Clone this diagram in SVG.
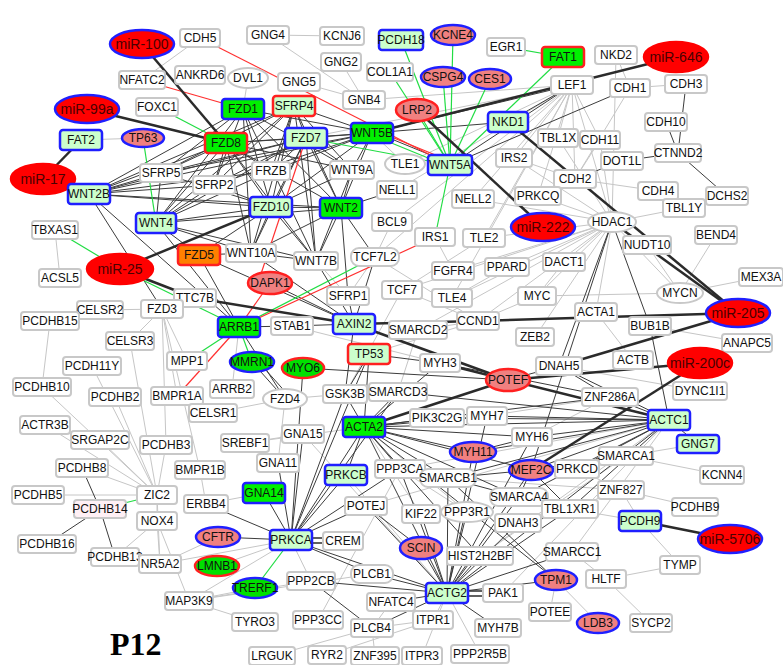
<svg xmlns="http://www.w3.org/2000/svg" width="783" height="665" viewBox="0 0 783 665">
<style>
text{font-family:"Liberation Sans",Arial,sans-serif;font-size:12px;text-anchor:middle;fill:#111}
text.mt{font-size:14px;fill:#4a0000}
rect{rx:3px;stroke-width:2.5}
.n{fill:#fff;stroke:#c8c8c8;stroke-width:2}
.pk{fill:#fff0f5;stroke:#c8c8c8;stroke-width:2}
.lg{fill:#ccffcc;stroke:#1f1fff}
.gb{fill:#00f000;stroke:#1f1fff}
.gr{fill:#00f000;stroke:#ff2020}
.lgr{fill:#ccffcc;stroke:#ff2020}
.or{fill:#ff8000;stroke:#ff2020}
.rr{rx:8px}
ellipse{stroke-width:2.5}
.mr{fill:#ff0000;stroke:#ff0000}
.mrb{fill:#ff0000;stroke:#1f1fff}
.pb{fill:#f08080;stroke:#1f1fff}
.pr{fill:#f08080;stroke:#ff2020}
.geb{fill:#00e000;stroke:#1f1fff}
.ger{fill:#00e000;stroke:#ff2020}
.we{fill:#fff;stroke:#c8c8c8;stroke-width:2}
.e line{stroke:#c6c6c6;stroke-width:1}
.d line{stroke:#3c3c3c;stroke-width:1}
.g line{stroke:#22dd44;stroke-width:1.2}
.r line{stroke:#ff3030;stroke-width:1.2}
.t line{stroke:#2b2b2b;stroke-width:2.5}
.t line.m{stroke-width:1.4}
</style>
<g id="connectors">
<g class="e">
<line x1="200" y1="38" x2="142" y2="80"/><line x1="248" y1="78" x2="243" y2="109"/><line x1="268" y1="35" x2="342" y2="36"/><line x1="268" y1="35" x2="364" y2="100"/><line x1="341" y1="62" x2="364" y2="100"/><line x1="299" y1="82" x2="364" y2="100"/><line x1="364" y1="100" x2="572" y2="85"/><line x1="81" y1="140" x2="143" y2="138"/><line x1="630" y1="88" x2="686" y2="84"/><line x1="630" y1="88" x2="616" y2="55"/><line x1="616" y1="55" x2="612" y2="222"/>
<line x1="572" y1="85" x2="405" y2="164"/><line x1="572" y1="85" x2="558" y2="138"/><line x1="572" y1="85" x2="575" y2="179"/><line x1="572" y1="85" x2="514" y2="158"/><line x1="572" y1="85" x2="612" y2="222"/><line x1="572" y1="85" x2="473" y2="199"/><line x1="572" y1="85" x2="538" y2="196"/><line x1="572" y1="85" x2="452" y2="298"/><line x1="572" y1="85" x2="600" y2="140"/><line x1="572" y1="85" x2="375" y2="257"/><line x1="572" y1="85" x2="484" y2="238"/><line x1="572" y1="85" x2="306" y2="138"/><line x1="572" y1="85" x2="392" y2="222"/><line x1="572" y1="85" x2="397" y2="190"/>
<line x1="630" y1="88" x2="575" y2="179"/><line x1="575" y1="179" x2="658" y2="191"/><line x1="575" y1="179" x2="600" y2="140"/><line x1="575" y1="179" x2="508" y2="122"/><line x1="575" y1="179" x2="514" y2="158"/>
<line x1="612" y1="222" x2="558" y2="138"/><line x1="612" y1="222" x2="684" y2="208"/><line x1="612" y1="222" x2="564" y2="262"/><line x1="612" y1="222" x2="537" y2="296"/><line x1="612" y1="222" x2="535" y2="337"/><line x1="612" y1="222" x2="596" y2="312"/><line x1="612" y1="222" x2="478" y2="321"/><line x1="612" y1="222" x2="452" y2="298"/><line x1="612" y1="222" x2="473" y2="199"/><line x1="612" y1="222" x2="538" y2="196"/><line x1="612" y1="222" x2="507" y2="267"/><line x1="612" y1="222" x2="514" y2="158"/><line x1="612" y1="222" x2="680" y2="293"/><line x1="612" y1="222" x2="484" y2="238"/><line x1="612" y1="222" x2="600" y2="140"/><line x1="612" y1="222" x2="402" y2="290"/><line x1="612" y1="222" x2="453" y2="271"/><line x1="612" y1="222" x2="418" y2="330"/>
<line x1="647" y1="245" x2="680" y2="293"/><line x1="680" y1="293" x2="761" y2="277"/><line x1="680" y1="293" x2="716" y2="235"/><line x1="537" y1="296" x2="680" y2="293"/><line x1="650" y1="326" x2="747" y2="343"/><line x1="559" y1="366" x2="700" y2="391"/><line x1="633" y1="360" x2="596" y2="312"/>
<line x1="375" y1="257" x2="478" y2="321"/><line x1="402" y1="290" x2="478" y2="321"/><line x1="484" y1="238" x2="402" y2="290"/><line x1="507" y1="267" x2="452" y2="298"/><line x1="537" y1="296" x2="478" y2="321"/><line x1="564" y1="262" x2="537" y2="296"/><line x1="392" y1="222" x2="375" y2="257"/><line x1="418" y1="330" x2="478" y2="321"/><line x1="418" y1="330" x2="398" y2="392"/><line x1="435" y1="237" x2="453" y2="271"/><line x1="348" y1="296" x2="375" y2="257"/><line x1="348" y1="296" x2="316" y2="261"/><line x1="402" y1="290" x2="345" y2="394"/><line x1="292" y1="326" x2="440" y2="363"/><line x1="478" y1="321" x2="369" y2="354"/><line x1="405" y1="164" x2="372" y2="133"/>
<line x1="55" y1="230" x2="60" y2="278"/><line x1="50" y1="321" x2="42" y2="387"/><line x1="100" y1="310" x2="162" y2="309"/><line x1="162" y1="309" x2="130" y2="341"/><line x1="162" y1="309" x2="187" y2="361"/><line x1="162" y1="309" x2="177" y2="396"/><line x1="162" y1="309" x2="166" y2="445"/><line x1="162" y1="309" x2="195" y2="298"/><line x1="162" y1="309" x2="200" y2="470"/>
<line x1="130" y1="341" x2="157" y2="495"/><line x1="92" y1="366" x2="157" y2="495"/><line x1="115" y1="397" x2="157" y2="495"/><line x1="42" y1="387" x2="157" y2="495"/><line x1="100" y1="440" x2="157" y2="495"/><line x1="45" y1="425" x2="157" y2="495"/><line x1="166" y1="445" x2="157" y2="495"/><line x1="82" y1="468" x2="157" y2="495"/><line x1="38" y1="495" x2="157" y2="495"/><line x1="157" y1="521" x2="157" y2="495"/><line x1="157" y1="521" x2="115" y2="557"/><line x1="157" y1="521" x2="160" y2="564"/><line x1="157" y1="521" x2="189" y2="601"/><line x1="160" y1="564" x2="218" y2="537"/><line x1="160" y1="564" x2="157" y2="495"/>
<line x1="213" y1="413" x2="285" y2="399"/><line x1="245" y1="443" x2="303" y2="434"/><line x1="245" y1="443" x2="364" y2="427"/><line x1="200" y1="470" x2="206" y2="504"/><line x1="206" y1="504" x2="264" y2="493"/><line x1="285" y1="399" x2="278" y2="463"/><line x1="285" y1="399" x2="345" y2="394"/><line x1="232" y1="389" x2="239" y2="327"/>
<line x1="189" y1="601" x2="255" y2="588"/><line x1="189" y1="601" x2="311" y2="581"/><line x1="189" y1="601" x2="372" y2="574"/><line x1="272" y1="656" x2="372" y2="628"/><line x1="433" y1="620" x2="372" y2="628"/><line x1="433" y1="620" x2="447" y2="593"/><line x1="422" y1="656" x2="447" y2="593"/><line x1="375" y1="656" x2="372" y2="628"/><line x1="327" y1="655" x2="433" y2="620"/><line x1="480" y1="654" x2="447" y2="593"/><line x1="318" y1="620" x2="400" y2="469"/><line x1="391" y1="602" x2="372" y2="628"/><line x1="255" y1="622" x2="189" y2="601"/>
<line x1="626" y1="456" x2="698" y2="444"/><line x1="626" y1="456" x2="722" y2="475"/><line x1="621" y1="490" x2="695" y2="507"/><line x1="621" y1="490" x2="640" y2="521"/><line x1="640" y1="521" x2="680" y2="565"/><line x1="680" y1="565" x2="606" y2="579"/><line x1="606" y1="579" x2="651" y2="623"/><line x1="606" y1="579" x2="572" y2="552"/><line x1="556" y1="580" x2="598" y2="623"/><line x1="556" y1="580" x2="550" y2="612"/><line x1="577" y1="469" x2="621" y2="490"/>
<line x1="366" y1="506" x2="669" y2="420"/><line x1="421" y1="514" x2="364" y2="427"/><line x1="467" y1="512" x2="364" y2="427"/><line x1="448" y1="478" x2="621" y2="490"/><line x1="487" y1="416" x2="610" y2="397"/><line x1="532" y1="437" x2="610" y2="397"/><line x1="480" y1="556" x2="626" y2="456"/><line x1="303" y1="434" x2="447" y2="593"/><line x1="346" y1="475" x2="447" y2="593"/><line x1="467" y1="512" x2="400" y2="469"/><line x1="400" y1="469" x2="669" y2="420"/><line x1="621" y1="490" x2="570" y2="509"/><line x1="640" y1="521" x2="570" y2="509"/><line x1="572" y1="552" x2="669" y2="420"/><line x1="480" y1="556" x2="669" y2="420"/><line x1="503" y1="593" x2="669" y2="420"/>
<line x1="291" y1="540" x2="189" y2="601"/><line x1="291" y1="540" x2="217" y2="566"/><line x1="291" y1="540" x2="160" y2="564"/><line x1="291" y1="540" x2="311" y2="581"/>
</g>
<g class="d">
<line x1="89" y1="194" x2="161" y2="173"/><line x1="89" y1="194" x2="214" y2="185"/><line x1="89" y1="194" x2="226" y2="143"/><line x1="89" y1="194" x2="243" y2="109"/><line x1="89" y1="194" x2="306" y2="138"/><line x1="89" y1="194" x2="271" y2="207"/><line x1="89" y1="194" x2="341" y2="208"/><line x1="89" y1="194" x2="271" y2="171"/><line x1="89" y1="194" x2="372" y2="133"/><line x1="89" y1="194" x2="294" y2="106"/>
<line x1="156" y1="223" x2="161" y2="173"/><line x1="156" y1="223" x2="214" y2="185"/><line x1="156" y1="223" x2="226" y2="143"/><line x1="156" y1="223" x2="243" y2="109"/><line x1="156" y1="223" x2="306" y2="138"/><line x1="156" y1="223" x2="271" y2="207"/><line x1="156" y1="223" x2="341" y2="208"/><line x1="156" y1="223" x2="294" y2="106"/><line x1="156" y1="223" x2="271" y2="171"/><line x1="156" y1="223" x2="251" y2="253"/><line x1="156" y1="223" x2="316" y2="261"/>
<line x1="226" y1="143" x2="161" y2="173"/><line x1="226" y1="143" x2="214" y2="185"/><line x1="226" y1="143" x2="306" y2="138"/><line x1="226" y1="143" x2="372" y2="133"/><line x1="226" y1="143" x2="271" y2="207"/><line x1="226" y1="143" x2="341" y2="208"/><line x1="226" y1="143" x2="251" y2="253"/><line x1="226" y1="143" x2="316" y2="261"/><line x1="226" y1="143" x2="352" y2="170"/><line x1="226" y1="143" x2="271" y2="171"/>
<line x1="243" y1="109" x2="161" y2="173"/><line x1="243" y1="109" x2="214" y2="185"/><line x1="243" y1="109" x2="271" y2="207"/><line x1="243" y1="109" x2="341" y2="208"/><line x1="243" y1="109" x2="316" y2="261"/><line x1="243" y1="109" x2="251" y2="253"/><line x1="243" y1="109" x2="352" y2="170"/><line x1="243" y1="109" x2="372" y2="133"/>
<line x1="294" y1="106" x2="306" y2="138"/><line x1="294" y1="106" x2="372" y2="133"/><line x1="294" y1="106" x2="271" y2="207"/><line x1="294" y1="106" x2="341" y2="208"/><line x1="294" y1="106" x2="316" y2="261"/><line x1="294" y1="106" x2="161" y2="173"/><line x1="294" y1="106" x2="214" y2="185"/><line x1="294" y1="106" x2="251" y2="253"/><line x1="294" y1="106" x2="352" y2="170"/><line x1="294" y1="106" x2="271" y2="171"/>
<line x1="306" y1="138" x2="372" y2="133"/><line x1="306" y1="138" x2="271" y2="207"/><line x1="306" y1="138" x2="341" y2="208"/><line x1="306" y1="138" x2="316" y2="261"/><line x1="306" y1="138" x2="251" y2="253"/><line x1="306" y1="138" x2="214" y2="185"/><line x1="306" y1="138" x2="161" y2="173"/><line x1="306" y1="138" x2="271" y2="171"/><line x1="306" y1="138" x2="352" y2="170"/>
<line x1="372" y1="133" x2="271" y2="207"/><line x1="372" y1="133" x2="341" y2="208"/><line x1="372" y1="133" x2="214" y2="185"/><line x1="372" y1="133" x2="161" y2="173"/><line x1="372" y1="133" x2="271" y2="171"/><line x1="372" y1="133" x2="352" y2="170"/><line x1="372" y1="131" x2="450" y2="163"/>
<line x1="271" y1="207" x2="341" y2="208"/><line x1="271" y1="207" x2="251" y2="253"/><line x1="271" y1="207" x2="316" y2="261"/><line x1="271" y1="207" x2="352" y2="170"/><line x1="271" y1="207" x2="214" y2="185"/><line x1="271" y1="207" x2="161" y2="173"/><line x1="271" y1="207" x2="199" y2="255"/>
<line x1="341" y1="208" x2="352" y2="170"/><line x1="341" y1="208" x2="251" y2="253"/><line x1="341" y1="208" x2="316" y2="261"/><line x1="341" y1="208" x2="348" y2="296"/><line x1="341" y1="208" x2="397" y2="190"/><line x1="341" y1="208" x2="375" y2="257"/>
<line x1="352" y1="170" x2="316" y2="261"/><line x1="251" y1="253" x2="316" y2="261"/><line x1="251" y1="253" x2="354" y2="324"/><line x1="316" y1="261" x2="354" y2="324"/><line x1="348" y1="296" x2="354" y2="324"/><line x1="375" y1="257" x2="354" y2="324"/><line x1="270" y1="283" x2="354" y2="324"/><line x1="199" y1="255" x2="354" y2="324"/><line x1="199" y1="255" x2="239" y2="327"/><line x1="199" y1="255" x2="251" y2="253"/><line x1="156" y1="223" x2="239" y2="327"/><line x1="89" y1="194" x2="239" y2="327"/><line x1="89" y1="194" x2="162" y2="309"/><line x1="156" y1="223" x2="199" y2="255"/>
<line x1="239" y1="327" x2="292" y2="326"/><line x1="292" y1="326" x2="354" y2="324"/><line x1="252" y1="362" x2="285" y2="399"/><line x1="256" y1="359" x2="289" y2="396"/><line x1="239" y1="327" x2="285" y2="399"/><line x1="354" y1="324" x2="345" y2="394"/>
<line x1="369" y1="354" x2="440" y2="363"/><line x1="369" y1="354" x2="364" y2="427"/><line x1="369" y1="354" x2="291" y2="540"/><line x1="369" y1="354" x2="345" y2="394"/><line x1="345" y1="394" x2="291" y2="540"/><line x1="303" y1="434" x2="291" y2="540"/><line x1="278" y1="463" x2="291" y2="540"/><line x1="264" y1="493" x2="291" y2="540"/><line x1="346" y1="475" x2="291" y2="540"/><line x1="364" y1="427" x2="291" y2="540"/><line x1="400" y1="469" x2="291" y2="540"/><line x1="366" y1="506" x2="291" y2="540"/><line x1="206" y1="504" x2="291" y2="540"/><line x1="218" y1="537" x2="291" y2="540"/><line x1="372" y1="574" x2="291" y2="540"/><line x1="447" y1="593" x2="291" y2="540"/><line x1="303" y1="368" x2="291" y2="540"/><line x1="398" y1="392" x2="291" y2="540"/><line x1="303" y1="368" x2="508" y2="380"/>
<line x1="364" y1="427" x2="437" y2="418"/><line x1="364" y1="427" x2="487" y2="416"/><line x1="364" y1="427" x2="532" y2="437"/><line x1="364" y1="427" x2="669" y2="420"/><line x1="364" y1="427" x2="473" y2="452"/><line x1="364" y1="427" x2="531" y2="470"/><line x1="364" y1="427" x2="480" y2="556"/><line x1="364" y1="427" x2="447" y2="593"/><line x1="364" y1="427" x2="448" y2="478"/><line x1="364" y1="427" x2="400" y2="469"/><line x1="364" y1="427" x2="346" y2="475"/><line x1="364" y1="427" x2="345" y2="394"/><line x1="364" y1="427" x2="398" y2="392"/><line x1="364" y1="427" x2="440" y2="363"/><line x1="364" y1="427" x2="556" y2="580"/><line x1="364" y1="427" x2="610" y2="397"/><line x1="364" y1="427" x2="519" y2="497"/>
<line x1="669" y1="420" x2="437" y2="418"/><line x1="669" y1="420" x2="487" y2="416"/><line x1="669" y1="420" x2="532" y2="437"/><line x1="669" y1="420" x2="473" y2="452"/><line x1="669" y1="420" x2="531" y2="470"/><line x1="669" y1="420" x2="398" y2="392"/><line x1="669" y1="420" x2="440" y2="363"/><line x1="669" y1="420" x2="559" y2="366"/><line x1="669" y1="420" x2="610" y2="397"/><line x1="669" y1="420" x2="698" y2="444"/><line x1="669" y1="420" x2="519" y2="497"/><line x1="669" y1="420" x2="570" y2="509"/><line x1="669" y1="420" x2="577" y2="469"/><line x1="669" y1="420" x2="650" y2="326"/><line x1="669" y1="420" x2="447" y2="593"/><line x1="669" y1="420" x2="448" y2="478"/>
<line x1="447" y1="593" x2="421" y2="514"/><line x1="447" y1="593" x2="421" y2="548"/><line x1="447" y1="593" x2="480" y2="556"/><line x1="447" y1="593" x2="473" y2="452"/><line x1="447" y1="593" x2="531" y2="470"/><line x1="447" y1="593" x2="448" y2="478"/><line x1="447" y1="593" x2="467" y2="512"/><line x1="447" y1="593" x2="532" y2="437"/><line x1="447" y1="593" x2="498" y2="628"/><line x1="447" y1="593" x2="391" y2="602"/><line x1="447" y1="593" x2="372" y2="574"/><line x1="447" y1="593" x2="311" y2="581"/><line x1="447" y1="593" x2="366" y2="506"/><line x1="447" y1="593" x2="556" y2="580"/><line x1="447" y1="593" x2="572" y2="552"/><line x1="447" y1="593" x2="372" y2="628"/><line x1="447" y1="593" x2="487" y2="416"/><line x1="447" y1="593" x2="519" y2="497"/><line x1="447" y1="593" x2="518" y2="523"/><line x1="447" y1="593" x2="570" y2="509"/><line x1="447" y1="593" x2="400" y2="469"/>
<line x1="612" y1="222" x2="559" y2="366"/><line x1="612" y1="222" x2="531" y2="470"/><line x1="612" y1="222" x2="650" y2="326"/><line x1="686" y1="84" x2="678" y2="153"/><line x1="666" y1="122" x2="678" y2="153"/><line x1="678" y1="153" x2="727" y2="196"/><line x1="678" y1="153" x2="622" y2="161"/><line x1="622" y1="161" x2="575" y2="179"/>
<line x1="372" y1="133" x2="572" y2="85"/><line x1="372" y1="133" x2="508" y2="122"/><line x1="630" y1="88" x2="450" y2="165"/><line x1="572" y1="85" x2="450" y2="165"/><line x1="572" y1="85" x2="508" y2="122"/>
<line x1="100" y1="509" x2="82" y2="468"/><line x1="100" y1="509" x2="47" y2="544"/><line x1="100" y1="509" x2="115" y2="557"/>
<line x1="556" y1="580" x2="448" y2="478"/><line x1="531" y1="470" x2="577" y2="469"/><line x1="448" y1="478" x2="531" y2="470"/><line x1="473" y1="452" x2="532" y2="437"/><line x1="440" y1="363" x2="610" y2="397"/><line x1="440" y1="363" x2="669" y2="420"/><line x1="559" y1="366" x2="508" y2="380"/><line x1="559" y1="366" x2="610" y2="397"/><line x1="570" y1="509" x2="531" y2="470"/><line x1="519" y1="497" x2="531" y2="470"/><line x1="448" y1="478" x2="519" y2="497"/><line x1="366" y1="506" x2="421" y2="548"/><line x1="531" y1="470" x2="626" y2="456"/><line x1="311" y1="581" x2="372" y2="628"/>
</g>
<g class="g">
<line x1="157" y1="107" x2="226" y2="143"/><line x1="143" y1="138" x2="156" y2="223"/><line x1="55" y1="230" x2="120" y2="269"/><line x1="120" y1="269" x2="239" y2="327"/><line x1="239" y1="327" x2="187" y2="361"/><line x1="239" y1="327" x2="252" y2="362"/><line x1="239" y1="327" x2="375" y2="257"/><line x1="306" y1="138" x2="450" y2="165"/><line x1="372" y1="135" x2="450" y2="167"/><line x1="390" y1="72" x2="450" y2="165"/><line x1="417" y1="110" x2="450" y2="165"/><line x1="401" y1="40" x2="450" y2="165"/><line x1="453" y1="35" x2="450" y2="165"/><line x1="443" y1="77" x2="450" y2="165"/><line x1="490" y1="79" x2="450" y2="165"/><line x1="563" y1="57" x2="450" y2="165"/><line x1="506" y1="47" x2="563" y2="57"/><line x1="450" y1="165" x2="435" y2="237"/><line x1="157" y1="495" x2="100" y2="509"/><line x1="291" y1="540" x2="255" y2="588"/>
</g>
<g class="r">
<line x1="200" y1="38" x2="450" y2="165"/><line x1="142" y1="80" x2="243" y2="109"/><line x1="306" y1="138" x2="258" y2="283"/><line x1="372" y1="129" x2="450" y2="161"/><line x1="239" y1="327" x2="270" y2="283"/><line x1="239" y1="327" x2="177" y2="396"/><line x1="239" y1="327" x2="435" y2="237"/>
</g>
<g class="t">
<line x1="142" y1="44" x2="226" y2="143"/><line x1="87" y1="109" x2="226" y2="143"/><line x1="43" y1="179" x2="81" y2="140"/><line x1="43" y1="179" x2="89" y2="194"/><line x1="120" y1="269" x2="271" y2="207"/><line x1="120" y1="269" x2="195" y2="298"/><line x1="195" y1="298" x2="354" y2="324"/><line x1="354" y1="324" x2="478" y2="321"/><line x1="478" y1="321" x2="738" y2="313"/><line x1="676" y1="57" x2="372" y2="133"/><line x1="417" y1="110" x2="543" y2="227"/><line x1="508" y1="122" x2="738" y2="313"/><line x1="612" y1="222" x2="738" y2="313"/><line x1="738" y1="313" x2="559" y2="366"/><line x1="700" y1="363" x2="508" y2="380"/><line x1="700" y1="363" x2="531" y2="470"/><line x1="508" y1="380" x2="364" y2="427"/><line x1="354" y1="324" x2="508" y2="380"/><line x1="440" y1="363" x2="508" y2="380"/><line x1="508" y1="380" x2="669" y2="420"/><line x1="730" y1="539" x2="640" y2="521"/>
<line class="m" x1="447" y1="591" x2="503" y2="591"/><line class="m" x1="447" y1="596" x2="503" y2="596"/><line class="m" x1="291" y1="538" x2="343" y2="538"/><line class="m" x1="291" y1="543" x2="343" y2="543"/>
</g>
</g>
<g id="nodes">
<g id="CDH5"><rect class="n" x="180" y="29" width="40" height="18"/><text x="200" y="42">CDH5</text></g>
<g id="GNG4"><rect class="n" x="247" y="26" width="42" height="18"/><text x="268" y="39">GNG4</text></g>
<g id="KCNJ6"><rect class="n" x="320" y="27" width="44" height="18"/><text x="342" y="40">KCNJ6</text></g>
<g id="PCDH18"><rect class="lg" x="379" y="30" width="44" height="20"/><text x="401" y="44">PCDH18</text></g>
<g id="KCNE4"><ellipse class="pb" cx="453" cy="35" rx="22" ry="10"/><text x="453" y="39">KCNE4</text></g>
<g id="EGR1"><rect class="n" x="487" y="38" width="38" height="18"/><text x="506" y="51">EGR1</text></g>
<g id="FAT1"><rect class="gr" x="542" y="47" width="42" height="20"/><text x="563" y="61">FAT1</text></g>
<g id="NKD2"><rect class="n" x="595" y="46" width="42" height="18"/><text x="616" y="59">NKD2</text></g>
<g id="miR-646"><ellipse class="mr" cx="676" cy="57" rx="32" ry="15"/><text class="mt" x="676" y="62">miR-646</text></g>
<g id="miR-100"><ellipse class="mrb" cx="142" cy="44" rx="32" ry="14"/><text class="mt" x="142" y="49">miR-100</text></g>
<g id="NFATC2"><rect class="n" x="119" y="71" width="46" height="18"/><text x="142" y="84">NFATC2</text></g>
<g id="ANKRD6"><rect class="n" x="175" y="66" width="50" height="18"/><text x="200" y="79">ANKRD6</text></g>
<g id="DVL1"><ellipse class="we" cx="248" cy="78" rx="20" ry="10"/><text x="248" y="82">DVL1</text></g>
<g id="GNG5"><rect class="n" x="278" y="73" width="42" height="18"/><text x="299" y="86">GNG5</text></g>
<g id="GNG2"><rect class="n" x="321" y="53" width="40" height="18"/><text x="341" y="66">GNG2</text></g>
<g id="COL1A1"><rect class="n" x="367" y="63" width="46" height="18"/><text x="390" y="76">COL1A1</text></g>
<g id="CSPG4"><ellipse class="pb" cx="443" cy="77" rx="22" ry="10"/><text x="443" y="81">CSPG4</text></g>
<g id="CES1"><ellipse class="pb" cx="490" cy="79" rx="21" ry="10"/><text x="490" y="83">CES1</text></g>
<g id="LEF1"><rect class="n" x="551" y="76" width="42" height="18"/><text x="572" y="89">LEF1</text></g>
<g id="CDH1"><rect class="n" x="610" y="79" width="40" height="18"/><text x="630" y="92">CDH1</text></g>
<g id="CDH3"><rect class="n" x="665" y="75" width="42" height="18"/><text x="686" y="88">CDH3</text></g>
<g id="miR-99a"><ellipse class="mrb" cx="87" cy="109" rx="32" ry="14"/><text class="mt" x="87" y="114">miR-99a</text></g>
<g id="FOXC1"><rect class="n" x="136" y="98" width="42" height="18"/><text x="157" y="111">FOXC1</text></g>
<g id="FZD1"><rect class="gb" x="222" y="99" width="42" height="20"/><text x="243" y="113">FZD1</text></g>
<g id="SFRP4"><rect class="lgr" x="273" y="96" width="42" height="20"/><text x="294" y="110">SFRP4</text></g>
<g id="GNB4"><rect class="n" x="343" y="91" width="42" height="18"/><text x="364" y="104">GNB4</text></g>
<g id="LRP2"><ellipse class="pr" cx="417" cy="110" rx="21" ry="11"/><text x="417" y="114">LRP2</text></g>
<g id="NKD1"><rect class="lg" x="488" y="112" width="40" height="20"/><text x="508" y="126">NKD1</text></g>
<g id="TBL1X"><rect class="n" x="538" y="129" width="40" height="18"/><text x="558" y="142">TBL1X</text></g>
<g id="CDH11"><rect class="n" x="580" y="131" width="40" height="18"/><text x="600" y="144">CDH11</text></g>
<g id="CDH10"><rect class="n" x="645" y="113" width="42" height="18"/><text x="666" y="126">CDH10</text></g>
<g id="FAT2"><rect class="lg" x="60" y="130" width="42" height="20"/><text x="81" y="144">FAT2</text></g>
<g id="TP63"><ellipse class="pb" cx="143" cy="138" rx="21" ry="9"/><text x="143" y="142">TP63</text></g>
<g id="FZD8"><rect class="gr" x="205" y="133" width="42" height="20"/><text x="226" y="147">FZD8</text></g>
<g id="FZD7"><rect class="lg" x="285" y="128" width="42" height="20"/><text x="306" y="142">FZD7</text></g>
<g id="WNT5B"><rect class="gb" x="351" y="123" width="42" height="20"/><text x="372" y="137">WNT5B</text></g>
<g id="TLE1"><ellipse class="we" cx="405" cy="164" rx="20" ry="10"/><text x="405" y="168">TLE1</text></g>
<g id="WNT5A"><rect class="lg" x="428" y="155" width="44" height="20"/><text x="450" y="169">WNT5A</text></g>
<g id="IRS2"><rect class="n" x="496" y="149" width="36" height="18"/><text x="514" y="162">IRS2</text></g>
<g id="CTNND2"><rect class="n" x="655" y="144" width="46" height="18"/><text x="678" y="157">CTNND2</text></g>
<g id="DOT1L"><rect class="n" x="601" y="152" width="42" height="18"/><text x="622" y="165">DOT1L</text></g>
<g id="miR-17"><ellipse class="mr" cx="43" cy="179" rx="32" ry="15"/><text class="mt" x="43" y="184">miR-17</text></g>
<g id="SFRP5"><rect class="n" x="140" y="164" width="42" height="18"/><text x="161" y="177">SFRP5</text></g>
<g id="SFRP2"><rect class="n" x="193" y="176" width="42" height="18"/><text x="214" y="189">SFRP2</text></g>
<g id="FRZB"><rect class="n" x="252" y="162" width="38" height="18"/><text x="271" y="175">FRZB</text></g>
<g id="WNT9A"><rect class="n" x="330" y="161" width="44" height="18"/><text x="352" y="174">WNT9A</text></g>
<g id="CDH2"><rect class="n" x="554" y="170" width="42" height="18"/><text x="575" y="183">CDH2</text></g>
<g id="DCHS2"><rect class="n" x="706" y="187" width="42" height="18"/><text x="727" y="200">DCHS2</text></g>
<g id="CDH4"><rect class="n" x="638" y="182" width="40" height="18"/><text x="658" y="195">CDH4</text></g>
<g id="TBL1Y"><rect class="n" x="663" y="199" width="42" height="18"/><text x="684" y="212">TBL1Y</text></g>
<g id="WNT2B"><rect class="lg" x="68" y="184" width="42" height="20"/><text x="89" y="198">WNT2B</text></g>
<g id="NELL1"><rect class="n" x="377" y="181" width="40" height="18"/><text x="397" y="194">NELL1</text></g>
<g id="NELL2"><rect class="n" x="452" y="190" width="42" height="18"/><text x="473" y="203">NELL2</text></g>
<g id="PRKCQ"><rect class="n" x="515" y="187" width="46" height="18"/><text x="538" y="200">PRKCQ</text></g>
<g id="FZD10"><rect class="lg" x="250" y="197" width="42" height="20"/><text x="271" y="211">FZD10</text></g>
<g id="WNT2"><rect class="gb" x="320" y="198" width="42" height="20"/><text x="341" y="212">WNT2</text></g>
<g id="BCL9"><rect class="n" x="372" y="213" width="40" height="18"/><text x="392" y="226">BCL9</text></g>
<g id="miR-222"><ellipse class="mrb" cx="543" cy="227" rx="32" ry="14"/><text class="mt" x="543" y="232">miR-222</text></g>
<g id="HDAC1"><ellipse class="we" cx="612" cy="222" rx="24" ry="10"/><text x="612" y="226">HDAC1</text></g>
<g id="BEND4"><rect class="n" x="695" y="226" width="42" height="18"/><text x="716" y="239">BEND4</text></g>
<g id="NUDT10"><rect class="n" x="623" y="236" width="48" height="18"/><text x="647" y="249">NUDT10</text></g>
<g id="TBXAS1"><rect class="n" x="32" y="221" width="46" height="18"/><text x="55" y="234">TBXAS1</text></g>
<g id="WNT4"><rect class="lg" x="136" y="213" width="40" height="20"/><text x="156" y="227">WNT4</text></g>
<g id="WNT10A"><rect class="n" x="226" y="244" width="50" height="18"/><text x="251" y="257">WNT10A</text></g>
<g id="WNT7B"><rect class="n" x="294" y="252" width="44" height="18"/><text x="316" y="265">WNT7B</text></g>
<g id="TCF7L2"><rect class="n rr" x="351" y="248" width="48" height="18"/><text x="375" y="261">TCF7L2</text></g>
<g id="IRS1"><rect class="n" x="415" y="228" width="40" height="18"/><text x="435" y="241">IRS1</text></g>
<g id="TLE2"><rect class="n" x="463" y="229" width="42" height="18"/><text x="484" y="242">TLE2</text></g>
<g id="DACT1"><rect class="n" x="543" y="253" width="42" height="18"/><text x="564" y="266">DACT1</text></g>
<g id="miR-25"><ellipse class="mr" cx="120" cy="269" rx="33" ry="15"/><text class="mt" x="120" y="274">miR-25</text></g>
<g id="FZD5"><rect class="or" x="178" y="245" width="42" height="20"/><text x="199" y="259">FZD5</text></g>
<g id="DAPK1"><ellipse class="pr" cx="270" cy="283" rx="22" ry="11"/><text x="270" y="287">DAPK1</text></g>
<g id="FGFR4"><rect class="n" x="432" y="262" width="42" height="18"/><text x="453" y="275">FGFR4</text></g>
<g id="PPARD"><rect class="n" x="485" y="258" width="44" height="18"/><text x="507" y="271">PPARD</text></g>
<g id="MEX3A"><rect class="n" x="739" y="268" width="44" height="18"/><text x="761" y="281">MEX3A</text></g>
<g id="ACSL5"><rect class="n" x="39" y="269" width="42" height="18"/><text x="60" y="282">ACSL5</text></g>
<g id="TTC7B"><rect class="n" x="174" y="289" width="42" height="18"/><text x="195" y="302">TTC7B</text></g>
<g id="SFRP1"><rect class="n" x="327" y="287" width="42" height="18"/><text x="348" y="300">SFRP1</text></g>
<g id="TCF7"><rect class="n" x="382" y="281" width="40" height="18"/><text x="402" y="294">TCF7</text></g>
<g id="TLE4"><rect class="n" x="432" y="289" width="40" height="18"/><text x="452" y="302">TLE4</text></g>
<g id="MYC"><rect class="n" x="518" y="287" width="38" height="18"/><text x="537" y="300">MYC</text></g>
<g id="MYCN"><ellipse class="we" cx="680" cy="293" rx="23" ry="10"/><text x="680" y="297">MYCN</text></g>
<g id="CELSR2"><rect class="n" x="77" y="301" width="46" height="18"/><text x="100" y="314">CELSR2</text></g>
<g id="FZD3"><rect class="n" x="141" y="300" width="42" height="18"/><text x="162" y="313">FZD3</text></g>
<g id="PCDHB15"><rect class="n" x="21" y="312" width="58" height="18"/><text x="50" y="325">PCDHB15</text></g>
<g id="ARRB1"><rect class="gb" x="218" y="317" width="42" height="20"/><text x="239" y="331">ARRB1</text></g>
<g id="STAB1"><rect class="n" x="271" y="317" width="42" height="18"/><text x="292" y="330">STAB1</text></g>
<g id="AXIN2"><rect class="lg" x="333" y="314" width="42" height="20"/><text x="354" y="328">AXIN2</text></g>
<g id="SMARCD2"><rect class="n" x="389" y="321" width="58" height="18"/><text x="418" y="334">SMARCD2</text></g>
<g id="CCND1"><rect class="n" x="457" y="312" width="42" height="18"/><text x="478" y="325">CCND1</text></g>
<g id="ACTA1"><rect class="n" x="575" y="303" width="42" height="18"/><text x="596" y="316">ACTA1</text></g>
<g id="miR-205"><ellipse class="mrb" cx="738" cy="313" rx="32" ry="14"/><text class="mt" x="738" y="318">miR-205</text></g>
<g id="BUB1B"><rect class="n" x="629" y="317" width="42" height="18"/><text x="650" y="330">BUB1B</text></g>
<g id="ZEB2"><rect class="n" x="516" y="328" width="38" height="18"/><text x="535" y="341">ZEB2</text></g>
<g id="ANAPC5"><rect class="n" x="722" y="334" width="50" height="18"/><text x="747" y="347">ANAPC5</text></g>
<g id="CELSR3"><rect class="n" x="106" y="332" width="48" height="18"/><text x="130" y="345">CELSR3</text></g>
<g id="MPP1"><rect class="n" x="167" y="352" width="40" height="18"/><text x="187" y="365">MPP1</text></g>
<g id="MMRN1"><ellipse class="geb" cx="252" cy="362" rx="22" ry="10"/><text x="252" y="366">MMRN1</text></g>
<g id="MYO6"><ellipse class="ger" cx="303" cy="368" rx="21" ry="10"/><text x="303" y="372">MYO6</text></g>
<g id="TP53"><rect class="lgr" x="348" y="344" width="42" height="20"/><text x="369" y="358">TP53</text></g>
<g id="MYH3"><rect class="n" x="420" y="354" width="40" height="18"/><text x="440" y="367">MYH3</text></g>
<g id="PCDH11Y"><rect class="n" x="63" y="357" width="58" height="18"/><text x="92" y="370">PCDH11Y</text></g>
<g id="DNAH5"><rect class="n" x="536" y="357" width="46" height="18"/><text x="559" y="370">DNAH5</text></g>
<g id="ACTB"><rect class="n" x="613" y="351" width="40" height="18"/><text x="633" y="364">ACTB</text></g>
<g id="miR-200c"><ellipse class="mr" cx="700" cy="363" rx="32" ry="15"/><text class="mt" x="700" y="368">miR-200c</text></g>
<g id="POTEF"><ellipse class="pr" cx="508" cy="380" rx="22" ry="11"/><text x="508" y="384">POTEF</text></g>
<g id="PCDHB10"><rect class="n" x="13" y="378" width="58" height="18"/><text x="42" y="391">PCDHB10</text></g>
<g id="ARRB2"><rect class="n" x="210" y="380" width="44" height="18"/><text x="232" y="393">ARRB2</text></g>
<g id="BMPR1A"><rect class="n" x="151" y="387" width="52" height="18"/><text x="177" y="400">BMPR1A</text></g>
<g id="PCDHB2"><rect class="n" x="89" y="388" width="52" height="18"/><text x="115" y="401">PCDHB2</text></g>
<g id="FZD4"><ellipse class="we" cx="285" cy="399" rx="22" ry="10"/><text x="285" y="403">FZD4</text></g>
<g id="GSK3B"><rect class="n" x="323" y="385" width="44" height="18"/><text x="345" y="398">GSK3B</text></g>
<g id="SMARCD3"><rect class="n" x="369" y="383" width="58" height="18"/><text x="398" y="396">SMARCD3</text></g>
<g id="ZNF286A"><rect class="n" x="582" y="388" width="56" height="18"/><text x="610" y="401">ZNF286A</text></g>
<g id="DYNC1I1"><rect class="n" x="673" y="382" width="54" height="18"/><text x="700" y="395">DYNC1I1</text></g>
<g id="CELSR1"><rect class="n" x="189" y="404" width="48" height="18"/><text x="213" y="417">CELSR1</text></g>
<g id="ACTR3B"><rect class="n" x="20" y="416" width="50" height="18"/><text x="45" y="429">ACTR3B</text></g>
<g id="ACTA2"><rect class="gb" x="343" y="417" width="42" height="20"/><text x="364" y="431">ACTA2</text></g>
<g id="PIK3C2G"><rect class="n" x="410" y="409" width="54" height="18"/><text x="437" y="422">PIK3C2G</text></g>
<g id="MYH7"><rect class="n" x="467" y="407" width="40" height="18"/><text x="487" y="420">MYH7</text></g>
<g id="ACTC1"><rect class="lg" x="648" y="410" width="42" height="20"/><text x="669" y="424">ACTC1</text></g>
<g id="SRGAP2C"><rect class="n" x="71" y="431" width="58" height="18"/><text x="100" y="444">SRGAP2C</text></g>
<g id="PCDHB3"><rect class="n" x="140" y="436" width="52" height="18"/><text x="166" y="449">PCDHB3</text></g>
<g id="SREBF1"><rect class="n" x="221" y="434" width="48" height="18"/><text x="245" y="447">SREBF1</text></g>
<g id="GNA15"><rect class="n" x="282" y="425" width="42" height="18"/><text x="303" y="438">GNA15</text></g>
<g id="MYH6"><rect class="n" x="512" y="428" width="40" height="18"/><text x="532" y="441">MYH6</text></g>
<g id="GNG7"><rect class="lg" x="677" y="435" width="42" height="18"/><text x="698" y="448">GNG7</text></g>
<g id="PCDHB8"><rect class="n" x="56" y="459" width="52" height="18"/><text x="82" y="472">PCDHB8</text></g>
<g id="BMPR1B"><rect class="n" x="175" y="461" width="50" height="18"/><text x="200" y="474">BMPR1B</text></g>
<g id="GNA11"><rect class="n" x="257" y="454" width="42" height="18"/><text x="278" y="467">GNA11</text></g>
<g id="MYH11"><ellipse class="pb" cx="473" cy="452" rx="23" ry="10"/><text x="473" y="456">MYH11</text></g>
<g id="SMARCA1"><rect class="n" x="599" y="447" width="54" height="18"/><text x="626" y="460">SMARCA1</text></g>
<g id="KCNN4"><rect class="n" x="700" y="466" width="44" height="18"/><text x="722" y="479">KCNN4</text></g>
<g id="PRKCB"><rect class="lg" x="325" y="465" width="42" height="20"/><text x="346" y="479">PRKCB</text></g>
<g id="PPP3CA"><rect class="n" x="375" y="460" width="50" height="18"/><text x="400" y="473">PPP3CA</text></g>
<g id="SMARCB1"><rect class="n rr" x="420" y="469" width="56" height="18"/><text x="448" y="482">SMARCB1</text></g>
<g id="MEF2C"><ellipse class="pb" cx="531" cy="470" rx="22" ry="10"/><text x="531" y="474">MEF2C</text></g>
<g id="PRKCD"><rect class="n" x="555" y="460" width="44" height="18"/><text x="577" y="473">PRKCD</text></g>
<g id="ZNF827"><rect class="n" x="598" y="481" width="46" height="18"/><text x="621" y="494">ZNF827</text></g>
<g id="PCDHB5"><rect class="n" x="12" y="486" width="52" height="18"/><text x="38" y="499">PCDHB5</text></g>
<g id="ZIC2"><rect class="n" x="137" y="486" width="40" height="18"/><text x="157" y="499">ZIC2</text></g>
<g id="ERBB4"><rect class="n" x="184" y="495" width="44" height="18"/><text x="206" y="508">ERBB4</text></g>
<g id="GNA14"><rect class="gb" x="243" y="483" width="42" height="20"/><text x="264" y="497">GNA14</text></g>
<g id="POTEJ"><rect class="n" x="345" y="497" width="42" height="18"/><text x="366" y="510">POTEJ</text></g>
<g id="KIF22"><rect class="n" x="402" y="505" width="38" height="18"/><text x="421" y="518">KIF22</text></g>
<g id="PPP3R1"><ellipse class="we" cx="467" cy="512" rx="26" ry="10"/><text x="467" y="516">PPP3R1</text></g>
<g id="SMARCA4"><rect class="n rr" x="490" y="488" width="58" height="18"/><text x="519" y="501">SMARCA4</text></g>
<g id="TBL1XR1"><rect class="n" x="542" y="500" width="56" height="18"/><text x="570" y="513">TBL1XR1</text></g>
<g id="PCDHB9"><rect class="n" x="672" y="498" width="46" height="18"/><text x="695" y="511">PCDHB9</text></g>
<g id="PCDHB14"><rect class="pk" x="74" y="500" width="52" height="18"/><text x="100" y="513">PCDHB14</text></g>
<g id="NOX4"><rect class="n" x="137" y="512" width="40" height="18"/><text x="157" y="525">NOX4</text></g>
<g id="DNAH3"><rect class="n" x="495" y="514" width="46" height="18"/><text x="518" y="527">DNAH3</text></g>
<g id="PCDH9"><rect class="lg" x="619" y="511" width="42" height="20"/><text x="640" y="525">PCDH9</text></g>
<g id="CFTR"><ellipse class="pb" cx="218" cy="537" rx="22" ry="10"/><text x="218" y="541">CFTR</text></g>
<g id="PRKCA"><rect class="lg" x="270" y="530" width="42" height="20"/><text x="291" y="544">PRKCA</text></g>
<g id="CREM"><rect class="n" x="323" y="532" width="40" height="18"/><text x="343" y="545">CREM</text></g>
<g id="SCIN"><ellipse class="pb" cx="421" cy="548" rx="21" ry="11"/><text x="421" y="552">SCIN</text></g>
<g id="PCDHB16"><rect class="n" x="18" y="535" width="58" height="18"/><text x="47" y="548">PCDHB16</text></g>
<g id="miR-5706"><ellipse class="mrb" cx="730" cy="539" rx="32" ry="14"/><text class="mt" x="730" y="544">miR-5706</text></g>
<g id="PCDHB13"><rect class="n" x="91" y="548" width="48" height="18"/><text x="115" y="561">PCDHB13</text></g>
<g id="NR5A2"><rect class="n" x="139" y="555" width="42" height="18"/><text x="160" y="568">NR5A2</text></g>
<g id="LMNB1"><ellipse class="ger" cx="217" cy="566" rx="22" ry="10"/><text x="217" y="570">LMNB1</text></g>
<g id="HIST2H2BF"><rect class="n" x="447" y="547" width="66" height="18"/><text x="480" y="560">HIST2H2BF</text></g>
<g id="SMARCC1"><rect class="n" x="546" y="543" width="52" height="18"/><text x="572" y="556">SMARCC1</text></g>
<g id="PLCB1"><rect class="n rr" x="351" y="565" width="42" height="18"/><text x="372" y="578">PLCB1</text></g>
<g id="PPP2CB"><rect class="n" x="287" y="572" width="48" height="18"/><text x="311" y="585">PPP2CB</text></g>
<g id="TYMP"><rect class="n" x="660" y="556" width="40" height="18"/><text x="680" y="569">TYMP</text></g>
<g id="TRERF1"><ellipse class="geb" cx="255" cy="588" rx="22" ry="10"/><text x="255" y="592">TRERF1</text></g>
<g id="ACTG2"><rect class="lg" x="426" y="583" width="42" height="20"/><text x="447" y="597">ACTG2</text></g>
<g id="PAK1"><rect class="n" x="483" y="584" width="40" height="18"/><text x="503" y="597">PAK1</text></g>
<g id="TPM1"><ellipse class="pb" cx="556" cy="580" rx="21" ry="10"/><text x="556" y="584">TPM1</text></g>
<g id="HLTF"><rect class="n" x="586" y="570" width="40" height="18"/><text x="606" y="583">HLTF</text></g>
<g id="NFATC4"><rect class="n" x="367" y="593" width="48" height="18"/><text x="391" y="606">NFATC4</text></g>
<g id="MAP3K9"><rect class="n" x="165" y="592" width="48" height="18"/><text x="189" y="605">MAP3K9</text></g>
<g id="PPP3CC"><rect class="n" x="293" y="611" width="50" height="18"/><text x="318" y="624">PPP3CC</text></g>
<g id="ITPR1"><rect class="n" x="413" y="611" width="40" height="18"/><text x="433" y="624">ITPR1</text></g>
<g id="MYH7B"><rect class="n" x="475" y="619" width="46" height="18"/><text x="498" y="632">MYH7B</text></g>
<g id="POTEE"><rect class="n" x="529" y="603" width="42" height="18"/><text x="550" y="616">POTEE</text></g>
<g id="LDB3"><ellipse class="pb" cx="598" cy="623" rx="21" ry="10"/><text x="598" y="627">LDB3</text></g>
<g id="SYCP2"><rect class="n" x="630" y="614" width="42" height="18"/><text x="651" y="627">SYCP2</text></g>
<g id="TYRO3"><rect class="n" x="232" y="613" width="46" height="18"/><text x="255" y="626">TYRO3</text></g>
<g id="PLCB4"><rect class="n" x="351" y="619" width="42" height="18"/><text x="372" y="632">PLCB4</text></g>
<g id="LRGUK"><rect class="n" x="249" y="647" width="46" height="18"/><text x="272" y="660">LRGUK</text></g>
<g id="RYR2"><rect class="n" x="308" y="646" width="38" height="18"/><text x="327" y="659">RYR2</text></g>
<g id="ZNF395"><rect class="n" x="351" y="647" width="48" height="18"/><text x="375" y="660">ZNF395</text></g>
<g id="ITPR3"><rect class="n" x="402" y="647" width="40" height="18"/><text x="422" y="660">ITPR3</text></g>
<g id="PPP2R5B"><rect class="n" x="451" y="645" width="58" height="18"/><text x="480" y="658">PPP2R5B</text></g>
</g>
<text x="110" y="655" style="font-family:'Liberation Serif','Times New Roman',serif;font-size:32px;font-weight:bold;text-anchor:start;fill:#000">P12</text>
</svg>
